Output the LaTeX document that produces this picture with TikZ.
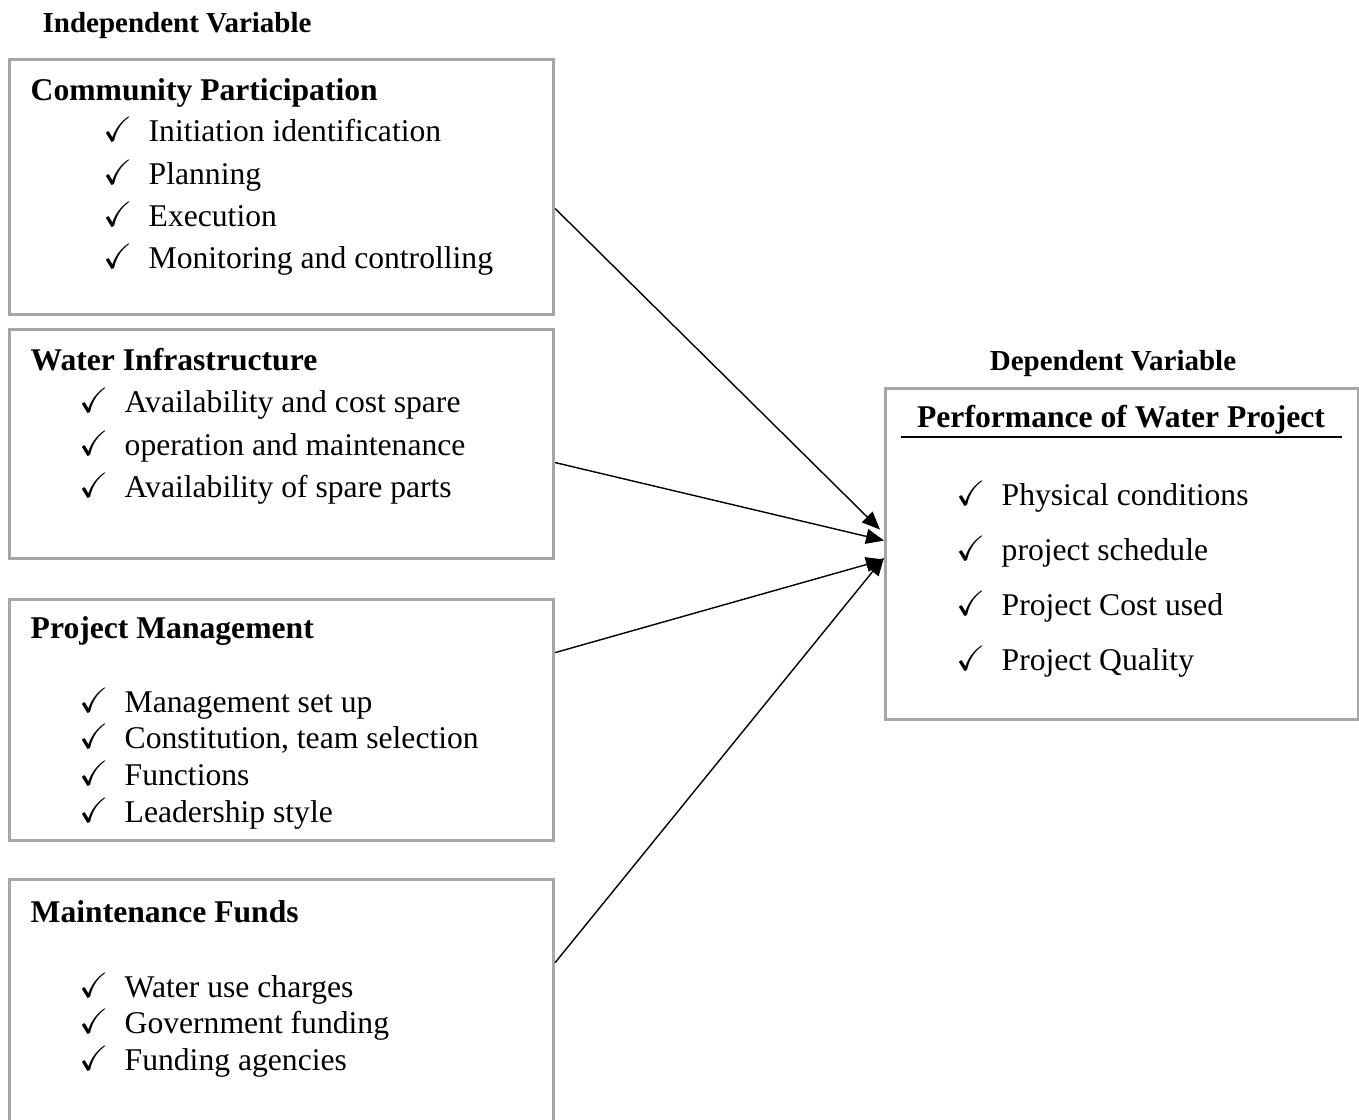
\documentclass[tikz,border=0pt]{standalone}
\usepackage{amssymb}
\usepackage{fontspec}
\setmainfont{Liberation Serif}
\usetikzlibrary{arrows.meta,positioning}
\newcommand{\tick}{\makebox[0.45cm][l]{\fontsize{10}{10}\selectfont$\checkmark$}}

\begin{document}
\begin{tikzpicture}[
  box/.style={draw=black!35, line width=0.9pt, anchor=north west, inner sep=0pt},
  head/.style={font=\fontsize{8.25}{10}\selectfont\bfseries, inner sep=0pt},
  title/.style={font=\fontsize{9}{11}\selectfont\bfseries, anchor=base west, inner sep=0pt},
  item/.style={font=\fontsize{9}{11}\selectfont, anchor=base west, inner sep=0pt},
  link/.style={-{Triangle[length=0.18cm,width=0.15cm]}, line width=0.4pt}
]
\useasboundingbox (0,0) rectangle (13.59,-11.2);
\clip (0,0) rectangle (13.59,-11.2);

% independent side
\node[head, anchor=base west] (iv) at (0.42,-0.33) {Independent Variable};

\node[box, minimum width=5.44cm, minimum height=2.55cm] (cp) at (0.08,-0.58) {};
\node[title] (cpt) at (0.30,-1.00) {Community Participation};
\node[item] (cp1) at (1.03,-1.42) {\tick Initiation identification};
\node[item] (cp2) at (1.03,-1.84) {\tick Planning};
\node[item] (cp3) at (1.03,-2.26) {\tick Execution};
\node[item] (cp4) at (1.03,-2.68) {\tick Monitoring and controlling};

\node[box, minimum width=5.44cm, minimum height=2.29cm] (wi) at (0.08,-3.28) {};
\node[title] (wit) at (0.30,-3.70) {Water Infrastructure};
\node[item] (wi1) at (0.79,-4.12) {\tick Availability and cost spare};
\node[item] (wi2) at (0.79,-4.55) {\tick operation and maintenance};
\node[item] (wi3) at (0.79,-4.97) {\tick Availability of spare parts};

\node[box, minimum width=5.44cm, minimum height=2.41cm] (pm) at (0.08,-5.98) {};
\node[title] (pmt) at (0.30,-6.38) {Project Management};
\node[item] (pm1) at (0.79,-7.12) {\tick Management set up};
\node[item] (pm2) at (0.79,-7.48) {\tick Constitution, team selection};
\node[item] (pm3) at (0.79,-7.85) {\tick Functions};
\node[item] (pm4) at (0.79,-8.22) {\tick Leadership style};

\node[box, minimum width=5.44cm, minimum height=2.60cm] (mf) at (0.08,-8.78) {};
\node[title] (mft) at (0.30,-9.22) {Maintenance Funds};
\node[item] (mf1) at (0.79,-9.97) {\tick Water use charges};
\node[item] (mf2) at (0.79,-10.33) {\tick Government funding};
\node[item] (mf3) at (0.79,-10.70) {\tick Funding agencies};

% dependent side
\node[head, anchor=base] (dv) at (11.13,-3.70) {Dependent Variable};

\node[box, minimum width=4.73cm, minimum height=3.31cm] (pwp) at (8.84,-3.87) {};
\node[title, anchor=base] (pwpt) at (11.21,-4.27) {Performance of Water Project};
\draw[line width=0.7pt] (9.01,-4.37) -- (13.42,-4.37);
\node[item] (pwp1) at (9.56,-5.05) {\tick Physical conditions};
\node[item] (pwp2) at (9.56,-5.60) {\tick project schedule};
\node[item] (pwp3) at (9.56,-6.15) {\tick Project Cost used};
\node[item] (pwp4) at (9.56,-6.70) {\tick Project Quality};

% arrows
\draw[link] ([yshift=-0.215cm]cp.east) -- ([xshift=-0.04cm,yshift=0.245cm]pwp.west);
\draw[link] ([yshift=-0.185cm]wi.east) -- ([yshift=0.135cm]pwp.west);
\draw[link] ([yshift=0.675cm]pm.east) -- ([yshift=-0.055cm]pwp.west);
\draw[link] ([yshift=0.47cm]mf.east) -- ([yshift=-0.035cm]pwp.west);
\end{tikzpicture}
\end{document}
